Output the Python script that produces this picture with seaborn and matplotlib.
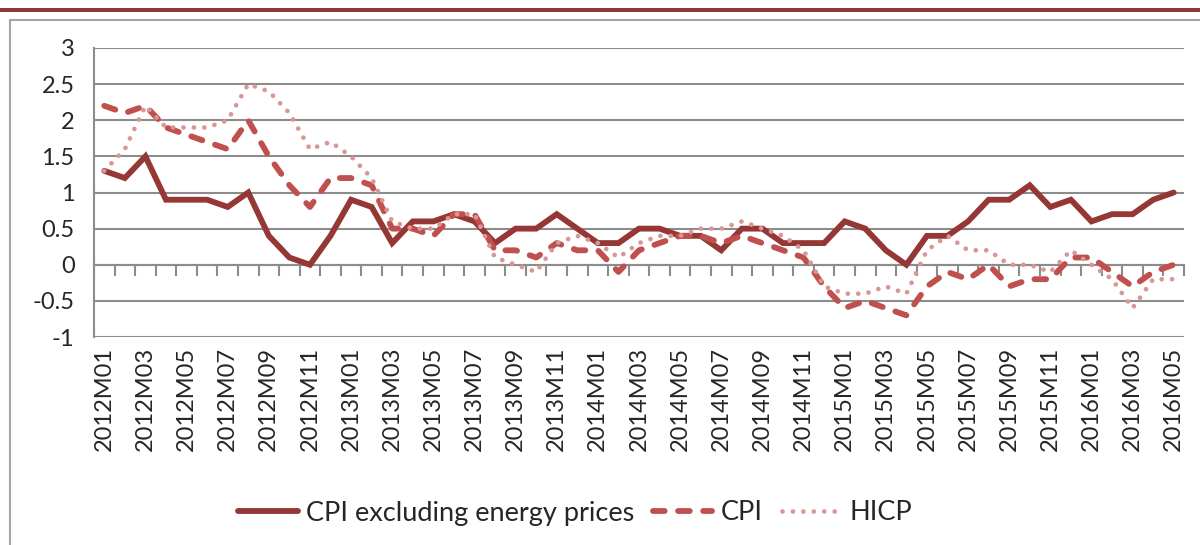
import matplotlib
matplotlib.use('Agg')
import numpy as np
import pandas as pd
import matplotlib.pyplot as plt
import seaborn as sns
from matplotlib.patches import Rectangle
from matplotlib.ticker import FuncFormatter

# Monthly categories, 2012M01 .. 2016M05
years = [2012, 2013, 2014, 2015, 2016]
months = [f"{y}M{m:02d}" for y in years for m in range(1, 13)][:53]

cpi_core = [1.3, 1.2, 1.5, 0.9, 0.9, 0.9, 0.8, 1.0, 0.4, 0.1, 0.0, 0.4,
            0.9, 0.8, 0.3, 0.6, 0.6, 0.7, 0.6, 0.3, 0.5, 0.5, 0.7, 0.5,
            0.3, 0.3, 0.5, 0.5, 0.4, 0.4, 0.2, 0.5, 0.5, 0.3, 0.3, 0.3,
            0.6, 0.5, 0.2, 0.0, 0.4, 0.4, 0.6, 0.9, 0.9, 1.1, 0.8, 0.9,
            0.6, 0.7, 0.7, 0.9, 1.0]
cpi = [2.2, 2.1, 2.2, 1.9, 1.8, 1.7, 1.6, 2.0, 1.5, 1.1, 0.8, 1.2,
       1.2, 1.1, 0.5, 0.5, 0.4, 0.7, 0.7, 0.2, 0.2, 0.1, 0.3, 0.2,
       0.2, -0.1, 0.2, 0.3, 0.4, 0.4, 0.3, 0.4, 0.3, 0.2, 0.1, -0.3,
       -0.6, -0.5, -0.6, -0.7, -0.3, -0.1, -0.2, 0.0, -0.3, -0.2, -0.2, 0.1,
       0.1, -0.1, -0.3, -0.1, 0.0]
hicp = [1.3, 1.6, 2.2, 1.9, 1.9, 1.9, 2.0, 2.5, 2.4, 2.1, 1.6, 1.7,
        1.5, 1.2, 0.6, 0.5, 0.5, 0.7, 0.7, 0.1, 0.0, -0.1, 0.3, 0.4,
        0.3, 0.1, 0.3, 0.4, 0.4, 0.5, 0.5, 0.6, 0.5, 0.4, 0.2, -0.3,
        -0.4, -0.4, -0.3, -0.4, 0.2, 0.4, 0.2, 0.2, 0.0, 0.0, -0.1, 0.2,
        0.0, -0.2, -0.6, -0.2, -0.2]

names = ['CPI excluding energy prices', 'CPI', 'HICP']
colors = ['#953735', '#C0504D', '#D99694']
grid_col = '#8c8c8c'

sns.set_style('white')
plt.rcParams['font.family'] = ['Lato', 'DejaVu Sans']

df = pd.DataFrame({'pos': np.arange(len(months)), 'month': months,
                   names[0]: cpi_core, names[1]: cpi, names[2]: hicp})

W, H = 1200, 545
fig = plt.figure(figsize=(W / 100, H / 100), dpi=100)

# outer chart frame + red bar at top
fig.patches.append(Rectangle((10 / W, -0.1), 2, 1 - 20 / H + 0.1, transform=fig.transFigure,
                             fill=False, edgecolor='#a6a6a6', lw=1.5, zorder=0))
fig.patches.append(Rectangle((0, 1 - 12 / H), 1, 4 / H, transform=fig.transFigure,
                             facecolor='#953735', edgecolor='none', zorder=0))

ax = fig.add_axes([94 / W, 1 - 337 / H, 1090 / W, 289 / H])

# lines
sns.lineplot(data=df, x='pos', y=names[0], ax=ax, color=colors[0], lw=4.2,
             label=names[0], solid_joinstyle='miter', zorder=3)
sns.lineplot(data=df, x='pos', y=names[1], ax=ax, color=colors[1], lw=4.2,
             label=names[1], linestyle=(0, (2.0, 2.3)), dash_capstyle='round', zorder=4)
sns.lineplot(data=df, x='pos', y=names[2], ax=ax, color=colors[2], lw=3.4,
             label=names[2], linestyle=(0, (0.01, 2.2)), dash_capstyle='round', zorder=5)

ymin, ymax = -1, 3
ax.set_xlim(-0.5, len(months) - 0.5)
ax.set_ylim(ymin, ymax)
ax.set_yticks(np.arange(ymin, ymax + 0.01, 0.5))
ax.yaxis.set_major_formatter(FuncFormatter(lambda v, p: f'{v:g}'))
ax.yaxis.grid(True, color=grid_col, lw=1.5)
ax.set_axisbelow(True)

ax.set_xticks(np.arange(0, len(months), 2))
ax.set_xticklabels(months[::2], rotation=90)
ax.tick_params(axis='x', length=0, pad=7, labelsize=17)
ax.tick_params(axis='y', length=10, width=1.5, color=grid_col, direction='out', pad=4, labelsize=17)
ax.set_xlabel('')
ax.set_ylabel('')

for s in ['top', 'right', 'bottom']:
    ax.spines[s].set_visible(False)
ax.spines['left'].set_color(grid_col)
ax.spines['left'].set_linewidth(1.5)

# horizontal axis with category ticks at y = 0
zero = ax.secondary_xaxis((0 - ymin) / (ymax - ymin))
zero.set_xticks(np.arange(-0.5, len(months), 1))
zero.set_xticklabels([])
zero.tick_params(axis='x', length=8, width=1.5, color=grid_col, direction='out')
zero.spines['bottom'].set_color(grid_col)
zero.spines['bottom'].set_linewidth(1.5)
for s in ['top', 'left', 'right']:
    zero.spines[s].set_visible(False)

handles, labels = ax.get_legend_handles_labels()
ax.get_legend().remove()
fig.legend(handles, labels, loc='center', bbox_to_anchor=(575 / W, 1 - 513 / H),
           ncol=3, frameon=False, fontsize=19.5, handlelength=2.2, handletextpad=0.3,
           columnspacing=0.7)

fig.savefig('out.png', dpi=100)
